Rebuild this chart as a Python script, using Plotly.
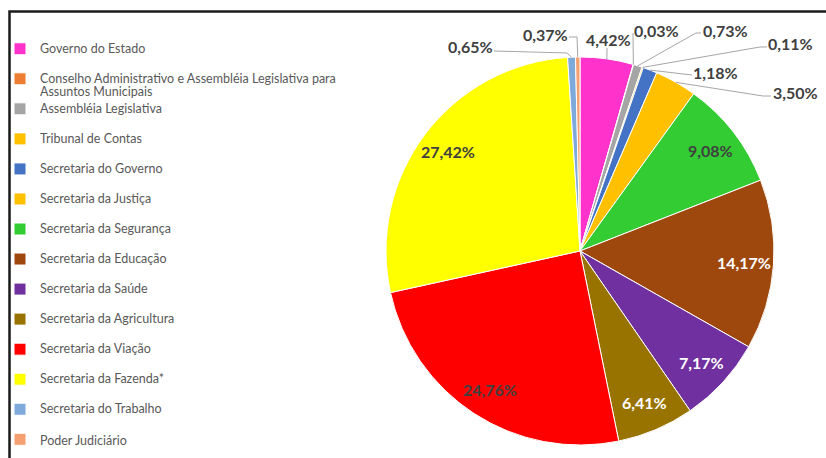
import math
import plotly.graph_objects as go

# ---------------- data ----------------
labels = [
    "Governo do Estado",
    "Conselho Administrativo e Assembléia Legislativa para<br>Assuntos Municipais",
    "Assembléia Legislativa",
    "Tribunal de Contas",
    "Secretaria do Governo",
    "Secretaria da Justiça",
    "Secretaria da Segurança",
    "Secretaria da Educação",
    "Secretaria da Saúde",
    "Secretaria da Agricultura",
    "Secretaria da Viação",
    "Secretaria da Fazenda*",
    "Secretaria do Trabalho",
    "Poder Judiciário",
]
values = [4.42, 0.03, 0.73, 0.11, 1.18, 3.50, 9.08, 14.17, 7.17, 6.41, 24.76, 27.42, 0.65, 0.37]
colors = ["#FF33CC", "#ED7D31", "#A5A5A5", "#FFC000", "#4472C4", "#FFC000", "#33CC33",
          "#9E480E", "#7030A0", "#997300", "#FF0000", "#FFFF00", "#7EA9DB", "#F4A070"]

# ---------------- layout constants ----------------
W, H = 826, 458
CX, CY, R = 580, 251, 194          # pie centre / radius in pixels
LABEL_FONT = "Lato"
DARK = "#404040"

def px_x(x):
    return x / W

def px_y(y):
    return 1 - y / H

def fmt(v):
    return f"{v:.2f}".replace(".", ",") + "%"

# legend entries: all but the last forced to two lines so every row has equal height
legend_names = []
for n, lab in enumerate(labels):
    txt = lab if ("<br>" in lab or n == len(labels) - 1) else lab + "<br> "
    parts = txt.split("<br>")
    legend_names.append("<br>".join(f"<span style='font-size:12.5px'>{p}</span>" for p in parts))

fig = go.Figure(go.Pie(
    labels=legend_names,
    values=values,
    sort=False,
    direction="clockwise",
    rotation=0,
    marker=dict(colors=colors, line=dict(color="white", width=1)),
    textinfo="none",
    hoverinfo="label+percent",
    domain=dict(x=[px_x(CX - R), px_x(CX + R)], y=[px_y(CY + R), px_y(CY - R)]),
))

# slice geometry from the data
total = sum(values)
mids = []
acc = 0
for v in values:
    mids.append((acc + v / 2) / total * 2 * math.pi)
    acc += v

def rim(i, k=1.0):
    a = mids[i]
    return CX + R * k * math.sin(a), CY - R * k * math.cos(a)

annotations = []
shapes = []

def add_label(x, y, text, color):
    annotations.append(dict(x=px_x(x), y=px_y(y), xref="paper", yref="paper",
                            xanchor="center", yanchor="middle",
                            text=text, showarrow=False,
                            font=dict(family=LABEL_FONT, size=16, color=color, weight="bold")))

# inside labels
inside = {6: DARK, 7: "white", 8: "white", 9: "white", 10: DARK, 11: DARK}
for i, col in inside.items():
    x, y = rim(i, 0.85)
    add_label(x, y, fmt(values[i]), col)

# outside labels: text centre, leader-line path from label side (pixels)
outside = {
    0: ((608, 40), [(607, 48)]),
    1: ((656, 30), [(633, 33)]),
    2: ((725, 30), [(701, 33), (696, 33)]),
    3: ((790, 43), [(767, 47), (760, 47)]),
    4: ((715, 72), [(692, 75)]),
    5: ((795, 93), [(771, 96), (763, 96)]),
    12: ((470, 46), [(494, 51), (567, 53)]),
    13: ((545, 34), [(569, 37), (577, 37)]),
}
for i, ((tx, ty), path) in outside.items():
    add_label(tx, ty, fmt(values[i]), DARK)
    pts = path + [rim(i, 1.0)]
    d = "M " + " L ".join(f"{px_x(x):.5f},{px_y(y):.5f}" for x, y in pts)
    shapes.append(dict(type="path", xref="paper", yref="paper", path=d,
                       line=dict(color="#A6A6A6", width=1)))

# outer frame
shapes.append(dict(type="rect", xref="paper", yref="paper",
                   x0=px_x(9.5), x1=px_x(W + 20), y0=px_y(H + 20), y1=px_y(11.5),
                   line=dict(color="#1A1A1A", width=2.5), layer="above"))

fig.update_layout(
    width=W, height=H,
    margin=dict(l=0, r=0, t=0, b=0),
    paper_bgcolor="white",
    plot_bgcolor="white",
    showlegend=True,
    legend=dict(x=0, y=px_y(35.5), xanchor="left", yanchor="top",
                valign="top", traceorder="normal",
                font=dict(family=LABEL_FONT, size=10.4, color="#595959"),
                bgcolor="rgba(0,0,0,0)", itemclick=False, itemdoubleclick=False),
    annotations=annotations,
    shapes=shapes,
)

fig.write_html("out.html", config={"displayModeBar": False},
               post_script="document.body.style.margin='0';")
